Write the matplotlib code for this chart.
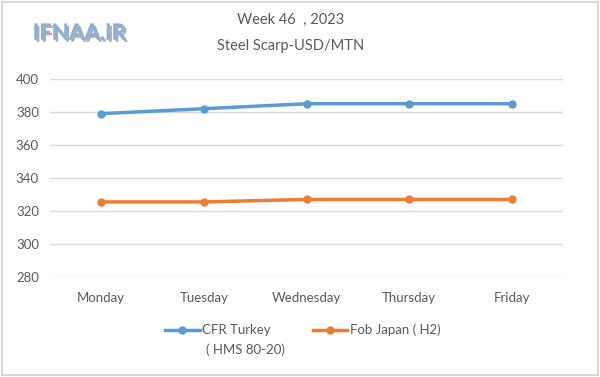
import matplotlib
matplotlib.use('Agg')
import matplotlib.pyplot as plt
import matplotlib.patheffects as pe
from matplotlib.patches import Rectangle

plt.rcParams['font.family'] = ['Lato', 'DejaVu Sans']

days = ['Monday', 'Tuesday', 'Wednesday', 'Thursday', 'Friday']
cfr_turkey = [379, 382, 385, 385, 385]
fob_japan = [325.5, 325.5, 327, 327, 327]
yticks = [280, 300, 320, 340, 360, 380, 400]

txt = '#595959'
fig = plt.figure(figsize=(6, 3.77), dpi=100)
fig.patches.append(Rectangle((0.003, 0.005), 0.994, 0.99, transform=fig.transFigure,
                             fill=False, edgecolor='#D0D0D0', lw=1.2))

ax = fig.add_axes([50/600, 1 - 277/377, 513/600, 198/377])
x = range(len(days))
ax.plot(x, cfr_turkey, color='#5B9BD5', lw=2.5, marker='o', ms=5, label='CFR Turkey')
ax.plot(x, fob_japan, color='#ED7D31', lw=2.5, marker='o', ms=5, label='Fob Japan ( H2)')

ax.set_xlim(-0.5, 4.5)
ax.set_ylim(280, 400)
ax.set_yticks(yticks)
ax.set_xticks(list(x))
ax.set_xticklabels(days)
ax.grid(axis='y', color='#D9D9D9', lw=1)
ax.set_axisbelow(True)
for s in ax.spines.values():
    s.set_visible(False)
ax.tick_params(length=0, colors=txt, labelsize=9.5)
ax.tick_params(axis='x', pad=11)
ax.tick_params(axis='y', pad=8)

fig.text(0.485, 0.948, 'Week 46  , 2023', ha='center', va='center', color=txt, fontsize=10.5)
fig.text(0.485, 0.878, 'Steel Scarp-USD/MTN', ha='center', va='center', color=txt, fontsize=10.5)

fig.text(0.132, 0.912, 'IFNAA.IR', ha='center', va='center', color='#8CB0DE', fontsize=16,
         fontweight='bold',
         path_effects=[pe.withSimplePatchShadow(offset=(1.5, -1.5), shadow_rgbFace='#9A9A9A', alpha=0.8),
                       pe.Normal()])

fig.legend(loc='center', bbox_to_anchor=(0.505, 0.125), ncol=2, frameon=False,
           fontsize=9.5, labelcolor=txt, handlelength=2.6, columnspacing=3.2,
           handletextpad=0.2)
fig.text(0.343, 0.073, '( HMS 80-20)', ha='left', va='center', color=txt, fontsize=9.5)

fig.savefig('out.png', dpi=100)
